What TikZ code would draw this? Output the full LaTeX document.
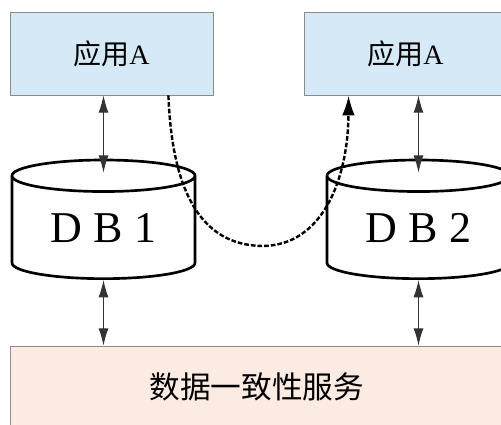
\documentclass[tikz,border=0pt]{standalone}
\usepackage{fontspec}
\setmainfont{Liberation Serif}
\newfontfamily\cjk{Noto Sans CJK SC}
\usepackage{tikz}
\usetikzlibrary{shapes.geometric, arrows.meta, calc}

\definecolor{appblue}{RGB}{214,233,246}
\definecolor{syncpink}{RGB}{252,235,227}

\begin{document}
\begin{tikzpicture}[x=0.75pt, y=-0.75pt,
    appbox/.style={rectangle, draw=black!45, line width=0.6pt, fill=appblue, minimum width=152.25pt, minimum height=62.25pt, inner sep=0pt, font=\fontsize{21}{25}\selectfont},
    syncbox/.style={rectangle, draw=black!45, line width=0.6pt, fill=syncpink, minimum width=370.5pt, minimum height=61.5pt, inner sep=0pt, font=\fontsize{23}{28}\selectfont},
    db/.style={cylinder, shape border rotate=90, aspect=0.3, draw, line width=2pt, minimum width=137.25pt, minimum height=89pt, inner sep=0pt, anchor=bottom, font=\fontsize{33}{38}\selectfont},
    link/.style={{Latex[length=13pt,width=7.5pt]}-{Latex[length=13pt,width=7.5pt]}, black!80, line width=0.8pt},
    sync/.style={-{Latex[length=15pt,width=9.5pt]}, line width=1.8pt, dash pattern=on 3.5pt off 1.5pt}
]
    \useasboundingbox (0,0) rectangle (501,425);

    % Applications
    \node[appbox] (app1) at (111.5, 53.5) {{\cjk 应用}A};
    \node[appbox] (app2) at (405.5, 53.5) {{\cjk 应用}A};

    % Databases
    \node[db] (db1) at (103.5, 280) {\raisebox{-4pt}{D B 1}};
    \node[db] (db2) at (418.5, 280) {\raisebox{-4pt}{D B 2}};

    % Service
    \node[syncbox] (sync) at (257, 387) {\cjk 数据一致性服务};

    % Arrows
    \draw[link] (app1.south -| db1.top) -- ([yshift=-10.5pt]db1.top);
    \draw[link] (app2.south -| db2.top) -- ([yshift=-10.5pt]db2.top);
    \draw[link] (db1.bottom) -- (sync.north -| db1.bottom);
    \draw[link] (db2.bottom) -- (sync.north -| db2.bottom);

    % Synchronisation path
    \coordinate (low) at (262, 246);
    \draw[sync] ($(app1.south east)+(-45,0)$) .. controls (172,190) and (200,245) .. (low)
        .. controls (322,246) and (348,180) .. ($(app2.south west)+(45,0)$);
\end{tikzpicture}
\end{document}
